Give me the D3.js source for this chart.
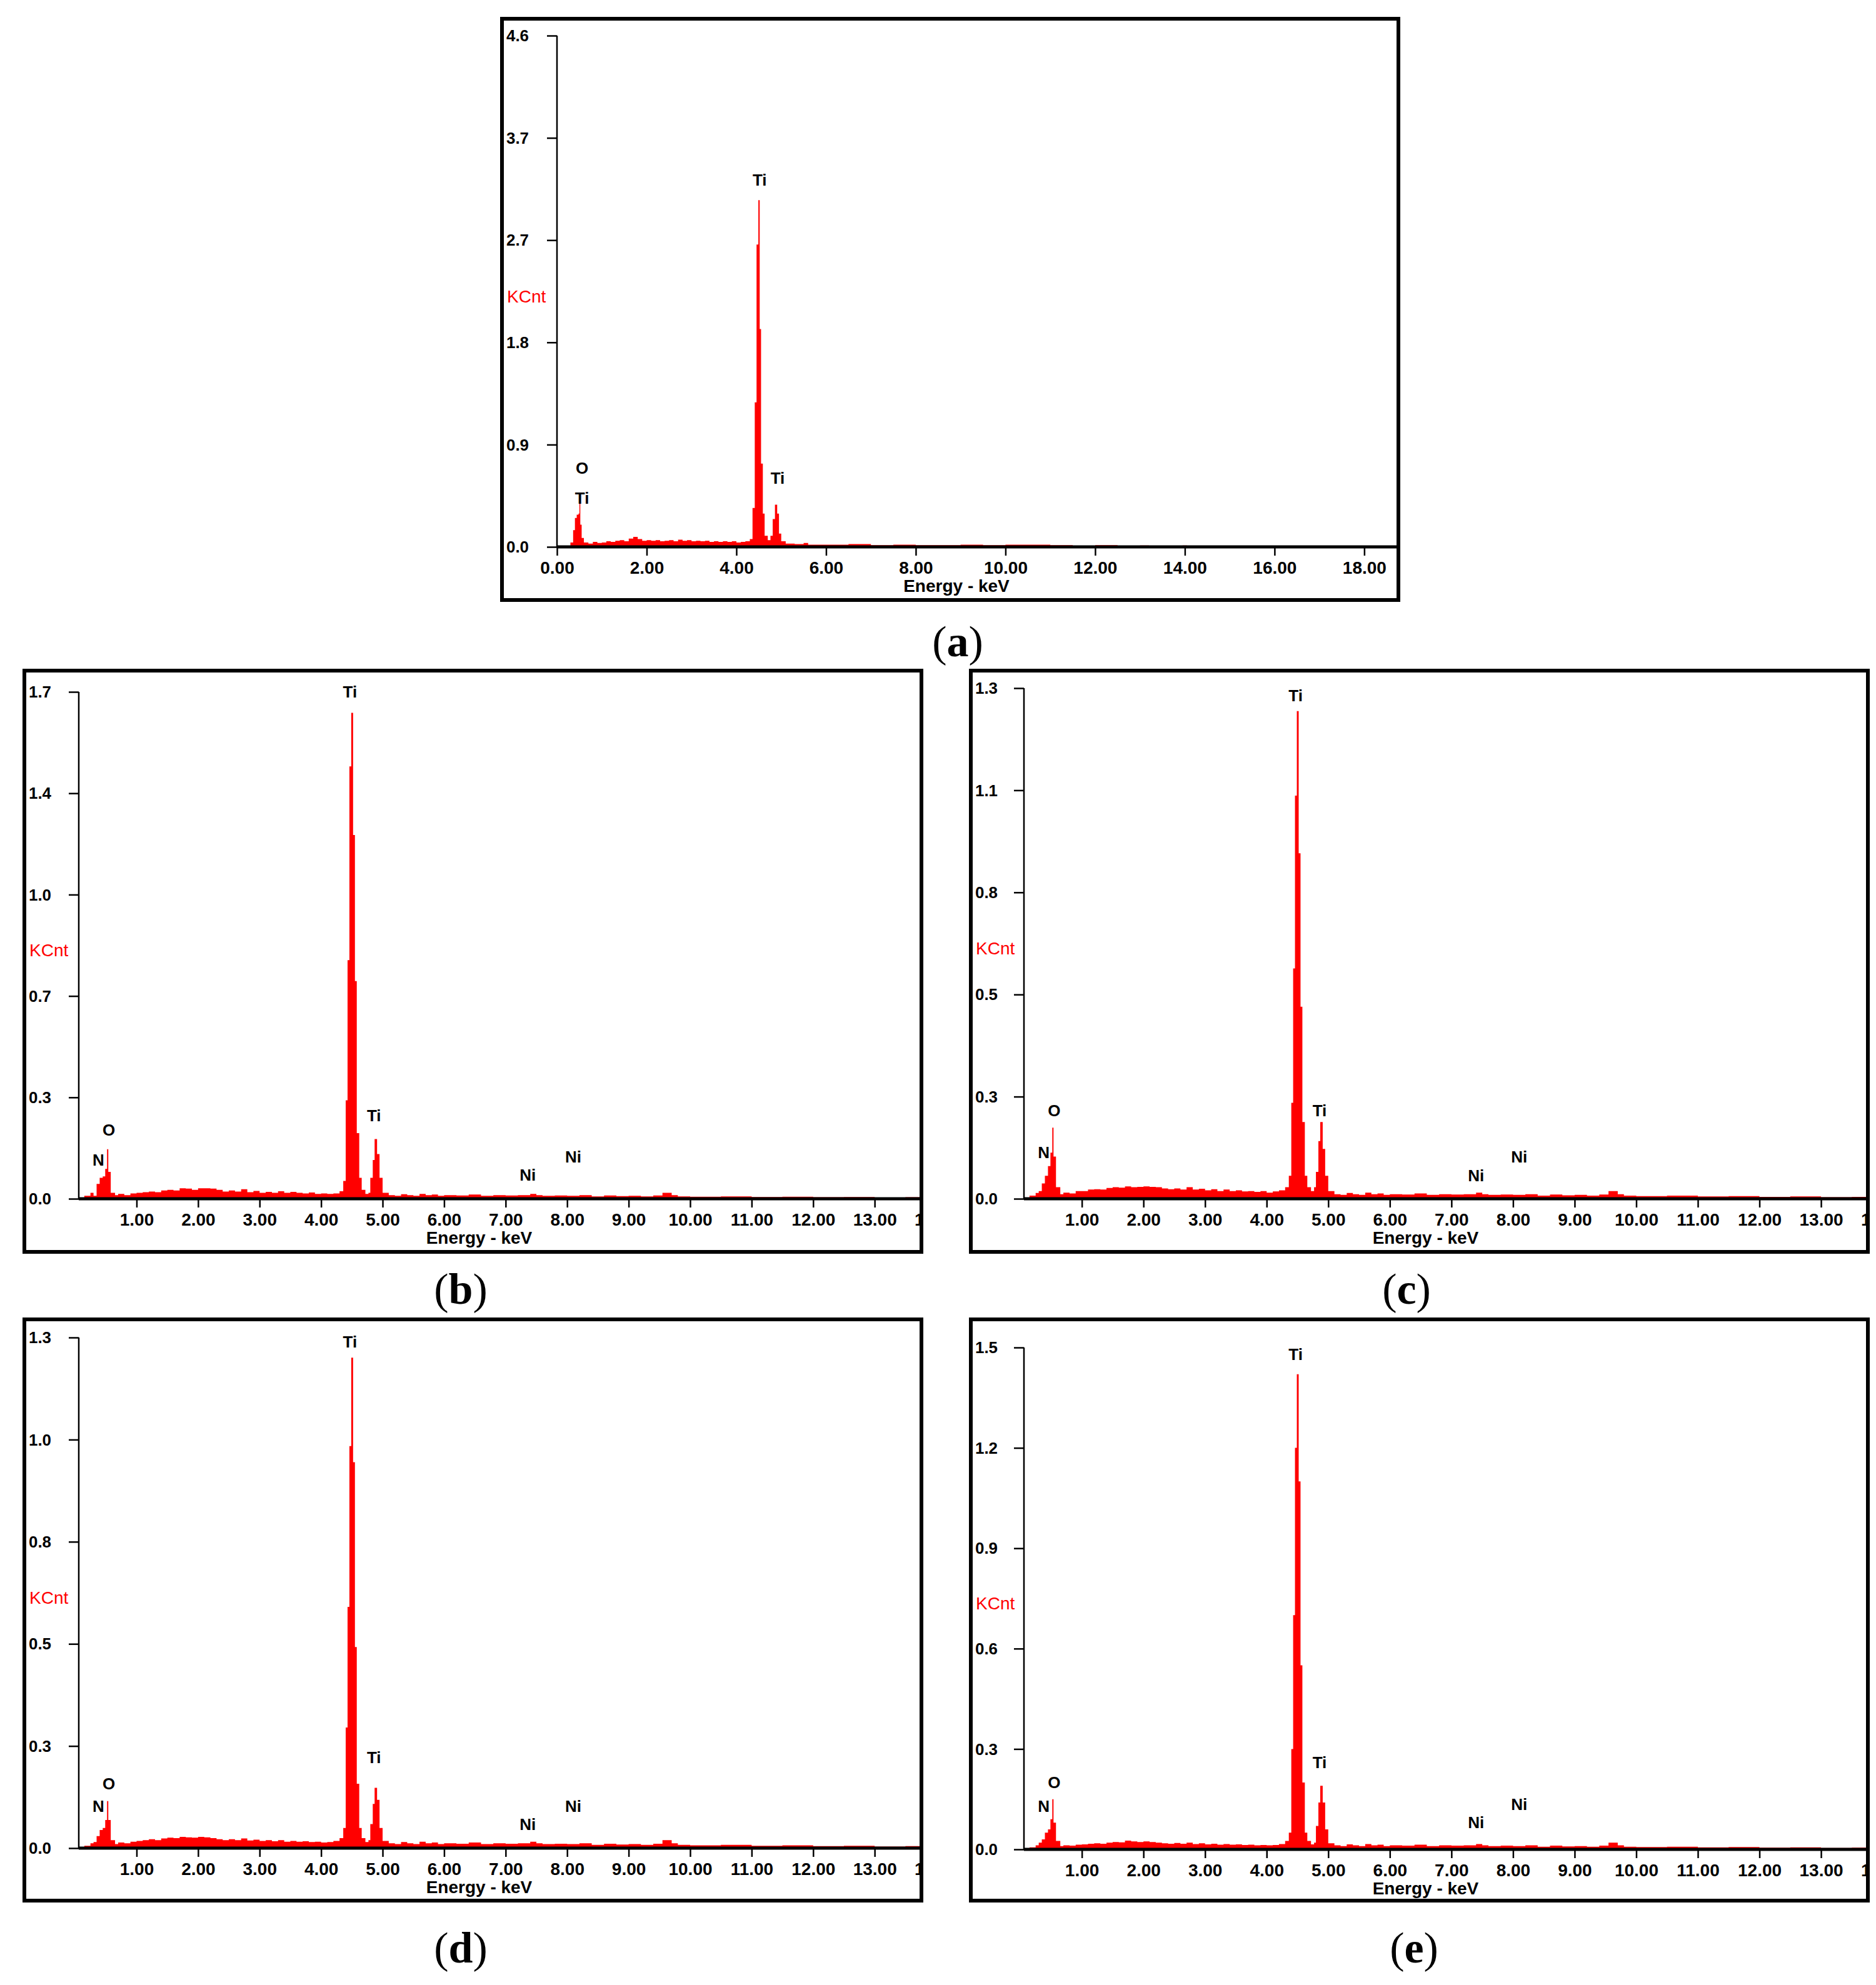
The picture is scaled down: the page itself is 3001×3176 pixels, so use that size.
<!DOCTYPE html>
<html><head><meta charset="utf-8">
<script src="https://cdn.jsdelivr.net/npm/d3@7"></script>
<style>body{margin:0;background:#fff}svg{display:block}</style>
</head><body>
<svg id="c" width="3001" height="3176"></svg>
<script>
// ---------- DATA ----------
const ticksA = ["0.0","0.9","1.8","2.7","3.7","4.6"];
const ticksB = ["0.0","0.3","0.7","1.0","1.4","1.7"];
const ticksC = ["0.0","0.3","0.5","0.8","1.1","1.3"];
const ticksD = ["0.0","0.3","0.5","0.8","1.0","1.3"];
const ticksE = ["0.0","0.3","0.6","0.9","1.2","1.5"];
const xTicksA = [0,2,4,6,8,10,12,14,16,18];
const xTicksBE = [1,2,3,4,5,6,7,8,9,10,11,12,13,14];

// spectrum A: [keV, KCnt]
const specA = [[0.1,0],[0.2,0.01],[0.3,0.04],[0.36,0.15],[0.4,0.26],[0.44,0.29],[0.48,0.3],[0.5,0.48],[0.52,0.2],[0.55,0.08],[0.6,0.04],[0.7,0.03],[0.8,0.045],[0.9,0.035],[1.0,0.04],[1.1,0.05],[1.2,0.045],[1.3,0.055],[1.4,0.06],[1.5,0.05],[1.6,0.075],[1.7,0.09],[1.8,0.07],[1.9,0.055],[2.0,0.06],[2.1,0.055],[2.2,0.06],[2.3,0.05],[2.4,0.055],[2.5,0.06],[2.6,0.05],[2.7,0.065],[2.8,0.055],[2.9,0.06],[3.0,0.05],[3.1,0.055],[3.2,0.05],[3.3,0.055],[3.4,0.045],[3.5,0.05],[3.6,0.045],[3.7,0.05],[3.8,0.045],[3.9,0.05],[4.0,0.04],[4.1,0.045],[4.2,0.05],[4.3,0.07],[4.36,0.35],[4.41,1.3],[4.45,2.72],[4.49,3.12],[4.52,1.96],[4.55,0.75],[4.59,0.3],[4.63,0.1],[4.7,0.06],[4.76,0.1],[4.81,0.25],[4.86,0.38],[4.91,0.3],[4.95,0.12],[5.0,0.05],[5.1,0.03],[5.3,0.025],[5.5,0.035],[5.6,0.02],[6.0,0.02],[6.5,0.025],[7.0,0.015],[7.5,0.02],[8.0,0.015],[9.0,0.02],[9.5,0.015],[10.0,0.02],[11.0,0.015],[11.5,0.01],[12.0,0.015],[12.5,0.01],[13.0,0.012],[13.2,0],[13.95,0.012],[14.05,0],[18.7,0]];

// shared background tail for b-e (5.1 – 13.75 keV)
const tailBE = [[5.1,0.012],[5.2,0.01],[5.3,0.015],[5.4,0.012],[5.5,0.01],[5.6,0.016],[5.7,0.012],[5.8,0.014],[5.9,0.01],[6.0,0.012],[6.2,0.011],[6.4,0.014],[6.6,0.01],[6.8,0.012],[7.0,0.011],[7.2,0.012],[7.4,0.016],[7.5,0.012],[7.6,0.01],[7.8,0.011],[8.0,0.01],[8.2,0.012],[8.4,0.008],[8.6,0.011],[8.8,0.009],[9.0,0.01],[9.2,0.008],[9.4,0.011],[9.55,0.02],[9.7,0.012],[9.8,0.008],[10.0,0.007],[10.5,0.008],[11.0,0.006],[11.5,0.007],[12.0,0.005],[12.5,0.006],[13.0,0.004],[13.5,0.005],[13.75,0.005]];

const lowB = [[0.06,0],[0.15,0.01],[0.25,0.02],[0.3,0.01],[0.35,0.05],[0.4,0.07],[0.45,0.075],[0.49,0.1],[0.52,0.166],[0.54,0.09],[0.58,0.02],[0.65,0.012],[0.7,0.016],[0.8,0.012],[0.9,0.018],[1.0,0.02],[1.1,0.022],[1.2,0.024],[1.3,0.022],[1.4,0.028],[1.5,0.03],[1.6,0.028],[1.7,0.035],[1.8,0.034],[1.9,0.03],[2.0,0.035],[2.1,0.035],[2.2,0.034],[2.3,0.03],[2.4,0.024],[2.5,0.028],[2.6,0.024],[2.7,0.032],[2.8,0.022],[2.9,0.026],[3.0,0.02],[3.1,0.023],[3.2,0.02],[3.3,0.025],[3.4,0.02],[3.5,0.023],[3.6,0.02],[3.7,0.018],[3.8,0.021],[3.9,0.016],[4.0,0.018],[4.1,0.016],[4.2,0.018],[4.3,0.025],[4.36,0.06],[4.40,0.33],[4.43,0.8],[4.46,1.45],[4.49,1.63],[4.52,1.22],[4.55,0.73],[4.58,0.22],[4.62,0.07],[4.66,0.03],[4.72,0.016],[4.77,0.02],[4.8,0.07],[4.84,0.13],[4.87,0.2],[4.91,0.15],[4.95,0.07],[5.0,0.02]];
const lowC = [[0.06,0],[0.15,0.008],[0.25,0.015],[0.3,0.02],[0.35,0.04],[0.4,0.06],[0.45,0.085],[0.49,0.12],[0.52,0.185],[0.54,0.11],[0.58,0.03],[0.65,0.012],[0.7,0.016],[0.8,0.014],[0.9,0.02],[1.0,0.02],[1.1,0.024],[1.2,0.025],[1.3,0.024],[1.4,0.028],[1.5,0.03],[1.6,0.029],[1.7,0.032],[1.8,0.03],[1.9,0.031],[2.0,0.032],[2.1,0.031],[2.2,0.03],[2.3,0.027],[2.4,0.025],[2.5,0.027],[2.6,0.024],[2.7,0.03],[2.8,0.024],[2.9,0.026],[3.0,0.022],[3.1,0.025],[3.2,0.02],[3.3,0.024],[3.4,0.02],[3.5,0.022],[3.6,0.019],[3.7,0.02],[3.8,0.018],[3.9,0.02],[4.0,0.016],[4.1,0.019],[4.2,0.022],[4.3,0.03],[4.36,0.06],[4.40,0.25],[4.43,0.6],[4.46,1.05],[4.49,1.27],[4.52,0.9],[4.55,0.5],[4.58,0.2],[4.62,0.06],[4.66,0.03],[4.72,0.02],[4.77,0.03],[4.8,0.07],[4.84,0.15],[4.87,0.2],[4.91,0.13],[4.95,0.06],[5.0,0.02]];
const lowD = [[0.06,0],[0.15,0.006],[0.25,0.012],[0.3,0.015],[0.35,0.03],[0.4,0.045],[0.45,0.05],[0.49,0.07],[0.52,0.117],[0.54,0.07],[0.58,0.02],[0.65,0.01],[0.7,0.014],[0.8,0.012],[0.9,0.016],[1.0,0.018],[1.1,0.02],[1.2,0.022],[1.3,0.02],[1.4,0.024],[1.5,0.026],[1.6,0.025],[1.7,0.028],[1.8,0.027],[1.9,0.026],[2.0,0.028],[2.1,0.027],[2.2,0.025],[2.3,0.022],[2.4,0.02],[2.5,0.022],[2.6,0.02],[2.7,0.024],[2.8,0.019],[2.9,0.021],[3.0,0.018],[3.1,0.02],[3.2,0.017],[3.3,0.02],[3.4,0.016],[3.5,0.018],[3.6,0.016],[3.7,0.017],[3.8,0.015],[3.9,0.016],[4.0,0.014],[4.1,0.015],[4.2,0.018],[4.3,0.025],[4.36,0.05],[4.40,0.3],[4.43,0.6],[4.46,1.0],[4.49,1.22],[4.52,0.96],[4.55,0.5],[4.58,0.16],[4.62,0.05],[4.66,0.025],[4.72,0.015],[4.77,0.02],[4.8,0.06],[4.84,0.11],[4.87,0.15],[4.91,0.12],[4.95,0.05],[5.0,0.018]];
const lowE = [[0.06,0],[0.15,0.006],[0.25,0.012],[0.3,0.02],[0.35,0.03],[0.4,0.05],[0.45,0.06],[0.49,0.09],[0.52,0.15],[0.54,0.08],[0.58,0.025],[0.65,0.01],[0.7,0.012],[0.8,0.011],[0.9,0.014],[1.0,0.015],[1.1,0.017],[1.2,0.018],[1.3,0.017],[1.4,0.02],[1.5,0.022],[1.6,0.021],[1.7,0.026],[1.8,0.024],[1.9,0.022],[2.0,0.024],[2.1,0.022],[2.2,0.02],[2.3,0.018],[2.4,0.017],[2.5,0.019],[2.6,0.017],[2.7,0.02],[2.8,0.016],[2.9,0.018],[3.0,0.015],[3.1,0.017],[3.2,0.014],[3.3,0.016],[3.4,0.014],[3.5,0.015],[3.6,0.013],[3.7,0.014],[3.8,0.012],[3.9,0.013],[4.0,0.012],[4.1,0.013],[4.2,0.016],[4.3,0.025],[4.36,0.05],[4.40,0.3],[4.43,0.7],[4.46,1.2],[4.49,1.42],[4.52,1.1],[4.55,0.55],[4.58,0.2],[4.62,0.05],[4.66,0.025],[4.72,0.015],[4.77,0.02],[4.8,0.07],[4.84,0.14],[4.87,0.19],[4.91,0.14],[4.95,0.06],[5.0,0.018]];

// element labels: [text, keV, KCnt]
const labelsA = [["Ti",4.52,3.3],["Ti",4.92,0.62],["O",0.56,0.71],["Ti",0.56,0.44]];
const labelsB = [["Ti",4.47,1.7],["Ti",4.86,0.28],["O",0.55,0.23],["N",0.38,0.13],["Ni",7.36,0.08],["Ni",8.1,0.14]];
const labelsC = [["Ti",4.47,1.31],["Ti",4.86,0.23],["O",0.55,0.23],["N",0.38,0.12],["Ni",7.4,0.06],["Ni",8.1,0.11]];
const labelsD = [["Ti",4.47,1.26],["Ti",4.86,0.225],["O",0.55,0.16],["N",0.38,0.105],["Ni",7.36,0.06],["Ni",8.1,0.105]];
const labelsE = [["Ti",4.47,1.48],["Ti",4.86,0.26],["O",0.55,0.2],["N",0.38,0.13],["Ni",7.4,0.08],["Ni",8.1,0.135]];

// ---------- DRAW ----------
const svg = d3.select("#c");
const RED = "#ff0000";
const SANS = "Liberation Sans, Arial, sans-serif";

function panel(o){
  const g = svg.append("g");
  const cid = "clip"+o.id;
  svg.append("clipPath").attr("id",cid).append("rect")
    .attr("x",o.bx).attr("y",o.by).attr("width",o.bw-3).attr("height",o.bh);
  const inner = g.append("g").attr("clip-path",`url(#${cid})`);
  const x = d3.scaleLinear().domain(o.xd).range([o.ox, o.bx+o.bw-3]);
  const y = d3.scaleLinear().domain([0,o.ymax]).range([o.oy, o.top]);
  const area = d3.area().curve(d3.curveStepAfter)
    .x(d=>x(d[0])).y0(y(0)).y1(d=>y(d[1]));
  inner.append("path").datum(o.data).attr("d",area).attr("fill",RED);
  // y axis
  const yt = o.ylab.map((t,i)=>i*o.ymax/5);
  const ya = d3.axisLeft(y).tickValues(yt).tickSize(16).tickFormat(()=> "");
  const yg = g.append("g").attr("transform",`translate(${o.ox},0)`).call(ya);
  yg.select(".domain").attr("stroke-width",2.5).attr("d",`M0,${o.oy}V${o.top}`);
  yg.selectAll(".tick line").attr("stroke-width",2.5);
  g.selectAll(".ylab").data(yt).enter().append("text")
    .attr("x",o.bx+7).attr("y",d=>y(d)).attr("dy","0.35em")
    .attr("font-family",SANS).attr("font-weight","bold").attr("font-size",26)
    .attr("textLength",36).attr("lengthAdjust","spacingAndGlyphs")
    .text((d,i)=>o.ylab[i]);
  // x axis
  const xa = d3.axisBottom(x).tickValues(o.xt).tickSize(14).tickFormat(d=>d.toFixed(2));
  const xg = inner.append("g").attr("transform",`translate(0,${o.oy})`).call(xa);
  xg.select(".domain").attr("stroke-width",5).attr("d",`M${o.ox},0H${o.bx+o.bw}`);
  xg.selectAll(".tick line").attr("stroke-width",2.5);
  xg.selectAll(".tick text").attr("font-family",SANS).attr("font-weight","bold")
    .attr("font-size",28).attr("fill","#000").attr("y",23).attr("dy","0.71em");
  // border
  g.append("rect").attr("x",o.bx).attr("y",o.by).attr("width",o.bw).attr("height",o.bh)
    .attr("fill","none").attr("stroke","#000").attr("stroke-width",6);
  // titles
  g.append("text").attr("x",(o.bx+o.bx+o.bw)/2+10).attr("y",o.oy+72).attr("text-anchor","middle")
    .attr("font-family",SANS).attr("font-weight","bold").attr("font-size",28).text("Energy - keV");
  g.append("text").attr("x",o.bx+8).attr("y",o.oy-(o.oy-o.top)*0.49).attr("dy","0.35em")
    .attr("font-family",SANS).attr("font-size",28).attr("fill",RED).text("KCnt");
  g.selectAll(".el").data(o.labels).enter().append("text")
    .attr("x",d=>x(d[1])).attr("y",d=>y(d[2])).attr("text-anchor","middle").attr("dy","0.35em")
    .attr("font-family",SANS).attr("font-weight","bold").attr("font-size",26)
    .text(d=>d[0]);
  const t = svg.append("text").attr("x",o.lx).attr("y",o.ly).attr("text-anchor","middle")
    .attr("font-family","Liberation Serif, Times New Roman, serif").attr("font-size",70);
  t.append("tspan").text("(");
  t.append("tspan").attr("font-weight","bold").text(o.letter);
  t.append("tspan").text(")");
}

const specB = lowB.concat(tailBE), specC = lowC.concat(tailBE), specD = lowD.concat(tailBE), specE = lowE.concat(tailBE);
const L = {bx:39,bw:1435,bh:930,ox:126,xd:[0.06,13.73]};
const R = {bx:1553,bw:1435,bh:930,ox:1638,xd:[0.06,13.73]};
panel({id:"a",bx:803,by:30,bw:1434,bh:930,ox:891,oy:875,top:57,xd:[0,18.72],xt:xTicksA,ymax:4.6,ylab:ticksA,data:specA,labels:labelsA,lx:1532,ly:1050,letter:"a"});
panel(Object.assign({id:"b",by:1073,oy:1918,top:1107,xt:xTicksBE,ymax:1.7,ylab:ticksB,data:specB,labels:labelsB,lx:737,ly:2086,letter:"b"},L));
panel(Object.assign({id:"c",by:1073,oy:1918,top:1101,xt:xTicksBE,ymax:1.33,ylab:ticksC,data:specC,labels:labelsC,lx:2250,ly:2086,letter:"c"},R));
panel(Object.assign({id:"d",by:2111,oy:2957,top:2140,xt:xTicksBE,ymax:1.27,ylab:ticksD,data:specD,labels:labelsD,lx:737,ly:3140,letter:"d"},L));
panel(Object.assign({id:"e",by:2111,oy:2959,top:2156,xt:xTicksBE,ymax:1.5,ylab:ticksE,data:specE,labels:labelsE,lx:2262,ly:3140,letter:"e"},R));
</script>
</body></html>
